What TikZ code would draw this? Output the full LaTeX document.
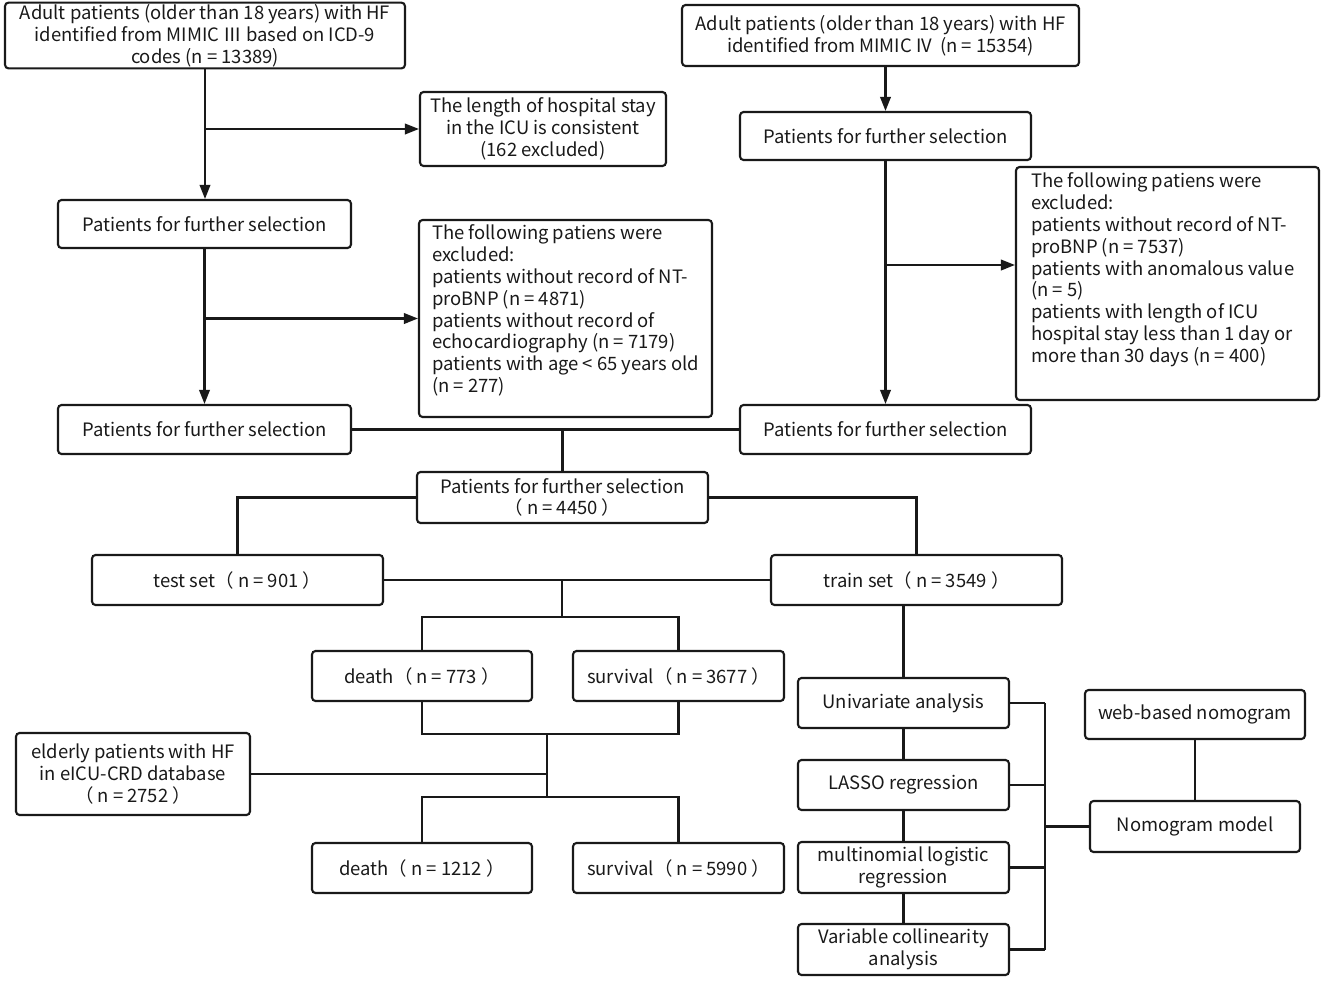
\documentclass[tikz,border=0pt]{standalone}
\usepackage{fontspec}
\setmainfont{Noto Sans CJK SC}
\usetikzlibrary{arrows.meta}
\tikzset{%
  box/.style={draw,rounded corners=2pt,align=center,inner sep=1pt,
    font=\fontsize{10.5}{12.4}\selectfont},
  arr/.style={-{Triangle[length=8pt,width=6pt]}}
}
\NewDocumentCommand\exclText{mmm}{\parbox[c][#1][t]{#2}{\raggedright #3}}

\begin{document}
\begin{tikzpicture}[x=0.02cm,y=-0.02cm,line width=1.2pt,color=black!90]
  \useasboundingbox (0,0) rectangle (1325,981);
  % MIMIC III branch
  \node[box,minimum width=8cm,minimum height=1.22cm] (a3) at (205,35.5)
    {Adult patients (older than 18 years) with HF\\identified from MIMIC Ⅲ based on ICD-9\\codes (n = 13389)};
  \node[box,minimum width=4.92cm,minimum height=1.48cm] (icu) at (543,129)
    {The length of hospital stay\\in the ICU is consistent\\(162 excluded)};
  \node[box,minimum width=5.86cm,minimum height=0.96cm] (lsel1) at (204.5,224) {Patients for further selection};
  \node[box,inner xsep=0.26cm,inner ysep=0.1cm] (lexcl) at (565.5,318.5)
    {\exclText{3.74cm}{5.34cm}{The following patiens were\\excluded:\\patients without record of NT-\\proBNP (n = 4871)\\patients without record of\\echocardiography (n = 7179)\\patients with age < 65 years old\\(n = 277)}};
  \node[box,minimum width=5.86cm,minimum height=0.98cm] (lsel2) at (204.5,429.5) {Patients for further selection};
  % MIMIC IV branch
  \node[box,minimum width=7.94cm,minimum height=1.22cm] (a4) at (880.5,35.5)
    {Adult patients (older than 18 years) with HF\\identified from MIMIC IV\ \ (n = 15354)};
  \node[box,minimum width=5.82cm,minimum height=0.96cm] (rsel1) at (885.5,136) {Patients for further selection};
  \node[box,inner xsep=0.3cm,inner ysep=0.12cm] (rexcl) at (1167.5,283.5)
    {\exclText{4.42cm}{5.46cm}{The following patiens were\\excluded:\\patients without record of NT-\\proBNP (n = 7537)\\patients with anomalous value\\(n = 5)\\patients with length of ICU\\hospital stay less than 1 day or\\more than 30 days (n = 400)}};
  \node[box,minimum width=5.82cm,minimum height=0.98cm] (rsel2) at (885.5,429.5) {Patients for further selection};
  % merged cohort
  \node[box,minimum width=5.82cm,minimum height=1.02cm] (comb) at (562.5,497.5)
    {Patients for further selection\\（ n = 4450 ）};
  \node[box,minimum width=5.82cm,minimum height=1cm] (test) at (237.5,580) {test set（ n = 901 ）};
  \node[box,minimum width=5.82cm,minimum height=1cm] (train) at (916.5,580) {train set（ n = 3549 ）};
  \node[box,minimum width=4.4cm,minimum height=1cm] (death1) at (422,676) {death（ n = 773 ）};
  \node[box,minimum width=4.22cm,minimum height=1cm] (surv1) at (678.5,676) {survival（ n = 3677 ）};
  \node[box,minimum width=4.68cm,minimum height=1.64cm] (eicu) at (133,774)
    {elderly patients with HF\\in eICU-CRD database\\（ n = 2752 ）};
  \node[box,minimum width=4.4cm,minimum height=1cm] (death2) at (422,868) {death（ n = 1212 ）};
  \node[box,minimum width=4.22cm,minimum height=1cm] (surv2) at (678.5,868) {survival（ n = 5990 ）};
  % model building
  \node[box,minimum width=4.22cm,minimum height=1cm] (univ) at (903.5,703) {Univariate analysis};
  \node[box,minimum width=4.22cm,minimum height=1cm] (lasso) at (903.5,785) {LASSO regression};
  \node[box,minimum width=4.22cm,minimum height=1.02cm] (multi) at (903.5,867.5) {multinomial logistic\\regression};
  \node[box,minimum width=4.22cm,minimum height=1.02cm] (coll) at (903.5,949.5) {Variable collinearity\\analysis};
  \node[box,minimum width=4.4cm,minimum height=0.98cm] (web) at (1195,714.5) {web-based nomogram};
  \node[box,minimum width=4.2cm,minimum height=1.02cm] (nomo) at (1195,826.5) {Nomogram model};

  % connectors
  \coordinate (rj) at (885,265);
  \coordinate (j1) at (562,617);
  \coordinate (j2) at (547,734);
  \coordinate (j3) at (547,797);
  \coordinate (bt) at (1045,703);
  \draw[arr] (a3.south) -- (a3.south |- lsel1.north);
  \draw[arr] (a3.south |- icu.west) -- (icu.west);
  \draw[arr] (lsel1.south) -- (lsel1.south |- lsel2.north);
  \draw[arr] (lsel1.south |- lexcl.west) -- (lexcl.west);
  \draw[arr] (a4.south -| rsel1.north) -- (rsel1.north);
  \draw[arr] (rsel1.south) -- (rsel2.north);
  \draw[arr] (rj) -- (rj -| rexcl.west);
  \draw (lsel2.east) -- (rsel2.west);
  \draw (comb.north |- lsel2.east) -- (comb.north);
  \draw (comb.west) -| (test.north);
  \draw (comb.east) -| (train.north);
  \draw (test.east) -- (train.west);
  \draw (j1 |- test.east) -- (j1);
  \draw (death1.north) |- (j1) -| (surv1.north);
  \draw (death1.south) |- (j2) -| (surv1.south);
  \draw (j2) -- (j3);
  \draw (eicu.east) -- (eicu.east -| j2);
  \draw (death2.north) |- (j3) -| (surv2.north);
  \draw (univ.north) -- (univ.north |- train.south);
  \draw (univ) -- (lasso);
  \draw (lasso) -- (multi);
  \draw (multi) -- (coll);
  \draw (bt) -- (bt |- coll.east);
  \foreach \n in {univ,lasso,multi,coll}
    \draw (\n.east) -- (\n.east -| bt);
  \draw (nomo.west) -- (nomo.west -| bt);
  \draw (web) -- (nomo);
\end{tikzpicture}
\end{document}
